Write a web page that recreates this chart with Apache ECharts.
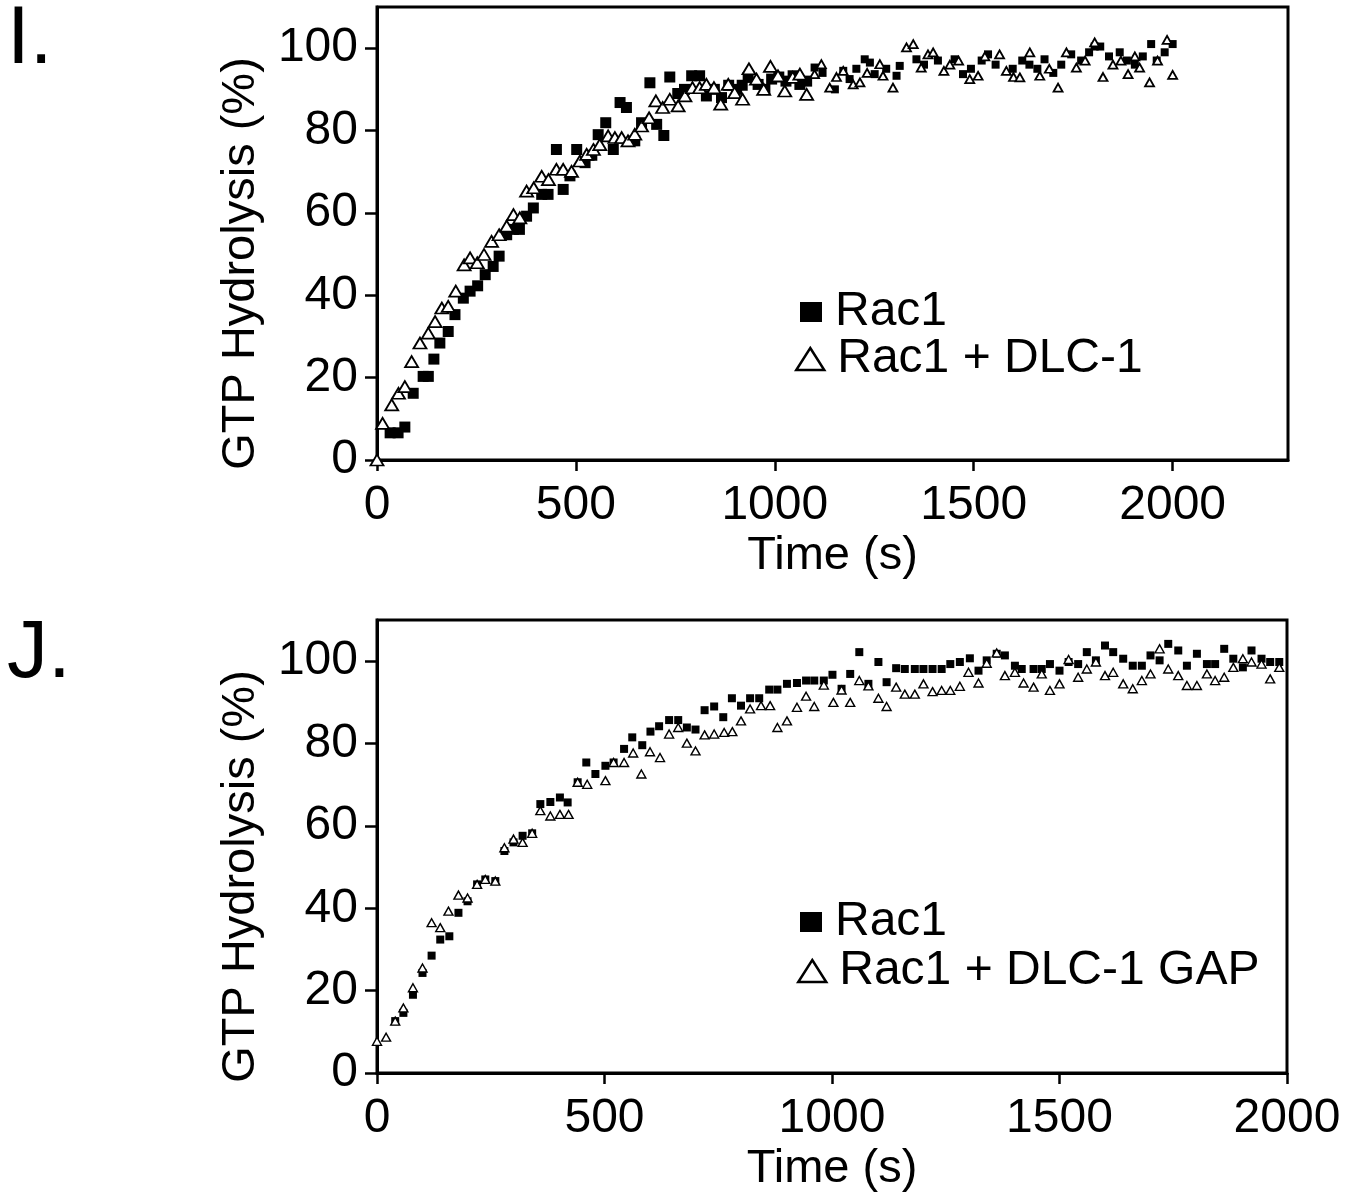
<!DOCTYPE html>
<html>
<head>
<meta charset="utf-8">
<script src="https://cdn.jsdelivr.net/npm/echarts@6/dist/echarts.min.js"></script>
<style>
html,body{margin:0;padding:0;background:#fff;}
#chart{width:1356px;height:1197px;}
</style>
</head>
<body>
<div id="chart"></div>
<script>
// ---- Data (time in s, GTP hydrolysis in %) ----
var xTicksI = [0, 500, 1000, 1500, 2000];
var xTicksJ = [0, 500, 1000, 1500, 2000];
var yTicks = [0, 20, 40, 60, 80, 100];

// Panel I: Rac1 (filled squares)
var iRac1 = [[33,6.6],[53,6.6],[70,8.0],[91,16.2],[116,20.3],[129,20.3],[143,24.5],[158,28.4],[179,31.2],[196,35.3],[217,39.3],[234,41],[253,42.3],[272,45],[292,47],[307,49.5],[326,54.7],[343,56],[358,56],[376,59.2],[393,61.2],[414,64.5],[430,64.5],[451,75.4],[468,65.7],[485,69],[502,75.4],[523,72.2],[540,74],[556,79],[575,81.9],[594,75.4],[611,86.8],[627,85.6],[648,77.5],[665,81.9],[686,91.6],[703,81.5],[721,78.8],[736,93],[756,89],[773,90],[791,93.3],[811,93.3],[828,88.4],[848,90],[866,88],[884,91],[904,90],[918,91],[933,92.9],[958,91.2],[975,90],[992,92.5],[1010,93],[1028,92],[1046,93.3],[1063,91.2],[1080,92],[1100,95.3],[1120,94],[1151,90],[1172,94.5],[1188,92.5],[1205,95],[1226,97.3],[1239,96.5],[1251,93.7],[1280,95],[1306,93.3],[1314,95.7],[1356,97.3],[1375,96],[1410,97],[1452,97.3],[1473,93.7],[1493,95],[1520,97],[1536,98.5],[1555,96],[1598,95],[1622,97],[1640,96],[1660,95],[1678,97.3],[1700,94],[1720,96],[1745,98.5],[1770,97],[1790,99],[1804,100.4],[1818,100.4],[1840,98],[1867,99],[1885,97],[1905,96],[1925,98],[1946,101],[1960,97],[1980,99],[2000,101]];
// Panel I: Rac1 + DLC-1 (open triangles)
var iRac1Dlc1 = [[0,0],[14,8.9],[37,13.4],[54,16.2],[70,17.8],[87,23.9],[108,28.4],[129,30.8],[146,33.6],[163,36.9],[179,37.3],[198,41],[219,47.4],[234,49.1],[252,47.9],[269,49.9],[288,53.1],[307,54.7],[326,56.8],[343,59.6],[359,58.8],[376,65.3],[394,66.1],[414,68.9],[431,68.1],[451,70.6],[468,70.6],[489,70.1],[510,72.6],[527,74.2],[544,75.4],[560,76.6],[581,78.7],[598,78.3],[615,78.3],[631,77.5],[648,79.1],[665,81.1],[684,83.1],[701,87.2],[718,85.6],[736,87.6],[757,86],[774,88.4],[793,90.4],[811,90.4],[828,91.2],[847,90.4],[864,86.4],[883,91.2],[899,89.2],[919,87.6],[935,95],[954,92.5],[972,90],[989,95.6],[1008,93.3],[1025,89.6],[1045,92.9],[1063,93.7],[1080,88.8],[1100,93.7],[1117,96.1],[1138,90.4],[1155,93],[1172,94.5],[1197,91.2],[1214,91.7],[1232,94],[1264,96.1],[1272,93.3],[1297,90.4],[1331,100.2],[1348,101],[1368,95.3],[1385,98.5],[1398,99],[1425,94.5],[1440,96],[1462,97],[1490,92.5],[1511,93.3],[1528,98],[1565,98.5],[1582,94.5],[1600,93],[1616,92.9],[1641,99],[1666,93.3],[1690,95],[1712,90.4],[1733,99],[1758,95.3],[1780,97],[1804,101.4],[1825,93],[1850,96],[1870,97],[1888,93.7],[1905,98],[1917,95.3],[1942,91.7],[1962,97],[1986,102],[2000,93.5]];

// Panel J: Rac1 (filled squares)
var jRac1 = [[40,12.6],[58,14.6],[79,19.0],[100,24.3],[120,28.5],[139,32.4],[159,33.2],[179,38.9],[199,41.7],[220,45.8],[238,47],[260,46.6],[280,53.9],[300,56],[320,57.6],[341,58.2],[359,65.3],[381,65.8],[402,66.9],[419,65.7],[441,70.6],[460,75.4],[480,72.6],[502,74.6],[520,75.4],[543,78.7],[561,81.5],[583,79.6],[601,82.9],[620,84.2],[642,85.7],[662,85.7],[681,83.9],[700,83.4],[720,88.1],[741,89.0],[761,86.4],[780,91.0],[800,89.2],[820,91.0],[840,91.0],[862,93.1],[880,93.1],[901,94.5],[923,94.7],[943,95.3],[961,95.3],[982,95.3],[1001,96.7],[1021,93.3],[1040,96.9],[1060,102.2],[1080,94.5],[1102,99.8],[1120,94.9],[1141,98.3],[1160,98.1],[1182,98.1],[1201,98.1],[1221,98.1],[1241,98.1],[1260,99.3],[1281,99.8],[1303,100.7],[1322,97.7],[1340,100.2],[1362,101.8],[1380,101.4],[1402,98.9],[1417,98.1],[1443,98.1],[1461,98.1],[1479,99.3],[1500,97.7],[1520,99.8],[1541,99.3],[1560,102.2],[1580,100.2],[1600,103.8],[1618,102.2],[1640,100.6],[1661,98.9],[1681,98.9],[1700,101.4],[1720,100.2],[1739,104.2],[1761,102.6],[1780,98.9],[1802,101.8],[1824,99.3],[1842,99.3],[1862,103],[1882,100.6],[1903,98.5],[1922,102.6],[1944,100.6],[1963,99.8],[1983,99.8]];
// Panel J: Rac1 + DLC-1 GAP (open triangles)
var jRac1Gap = [[0,7.7],[20,8.7],[40,12.6],[58,15.8],[79,20.7],[100,25.5],[120,36.5],[139,35.3],[157,39.3],[179,43.2],[199,42.5],[220,45.8],[238,47],[260,46.6],[280,54.7],[300,56.8],[320,56],[341,58.2],[359,63.7],[381,62.4],[402,62.8],[421,62.8],[441,70.6],[462,70.1],[502,71],[520,75.4],[543,75.4],[563,77.7],[581,72.6],[600,78],[622,76.6],[642,82.3],[662,83.9],[681,80.1],[700,78.2],[720,82.1],[741,82.3],[763,82.7],[781,82.9],[800,85.5],[820,88.4],[844,89.2],[864,89.2],[880,83.9],[901,85.5],[923,88.8],[943,91.5],[961,89.0],[982,94.2],[1003,90.0],[1021,93],[1040,90.0],[1060,95.3],[1080,94],[1102,91],[1120,89.0],[1141,93.7],[1160,92.0],[1182,92.0],[1201,94.5],[1221,92.6],[1241,92.9],[1260,92.9],[1281,93.9],[1300,97.3],[1322,94.7],[1340,99.5],[1362,102],[1380,96.5],[1402,97.3],[1421,94.7],[1443,93.7],[1461,96.9],[1479,92.9],[1500,94.5],[1520,100.4],[1541,96.1],[1560,98.1],[1580,99.8],[1600,96.5],[1618,97.3],[1640,94.5],[1661,93.3],[1681,95.3],[1700,96.9],[1720,103],[1739,98.1],[1761,96.5],[1780,94.1],[1802,94.1],[1824,96.9],[1842,95.3],[1862,96.1],[1882,98.5],[1903,100.6],[1922,99.8],[1944,99.3],[1963,95.7],[1983,98.5]];

var xMaxI = 2290, xMaxJ = 2000, yMin = 0, yMax = 110;

// ---- Styles ----
var FONT = '"Liberation Sans", Arial, sans-serif';
var TICK_FS = 48, NAME_FS = 47, LEG_FS = 48;
function plain(v) { return String(v); }

function xAxisCfg(gridIndex, max, ticks) {
  return {
    type: 'value', gridIndex: gridIndex, min: 0, max: max, interval: 500,
    name: 'Time (s)', nameLocation: 'middle', nameGap: 73,
    nameTextStyle: {fontSize: NAME_FS, color: '#000', fontFamily: FONT},
    axisLine: {show: true, lineStyle: {color: '#000', width: 3}},
    axisTick: {show: true, inside: false, length: 11, customValues: ticks, lineStyle: {color: '#000', width: 2.5}},
    axisLabel: {show: true, margin: 22, fontSize: TICK_FS, color: '#000', fontFamily: FONT, customValues: ticks, formatter: plain},
    splitLine: {show: false}
  };
}
function yAxisCfg(gridIndex) {
  return {
    type: 'value', gridIndex: gridIndex, min: yMin, max: yMax, interval: 20,
    name: 'GTP Hydrolysis (%)', nameLocation: 'middle', nameGap: 112,
    nameTextStyle: {fontSize: NAME_FS, color: '#000', fontFamily: FONT, padding: [0, 60, 0, 0]},
    axisLine: {show: true, lineStyle: {color: '#000', width: 3}},
    axisTick: {show: true, inside: false, length: 12, customValues: yTicks, lineStyle: {color: '#000', width: 2.5}},
    axisLabel: {show: true, margin: 19, fontSize: TICK_FS, color: '#000', fontFamily: FONT, customValues: yTicks, formatter: plain},
    splitLine: {show: false}
  };
}
function legendCfg(name, left, top, w, h) {
  return {
    data: [name], left: left, top: top, orient: 'vertical',
    itemWidth: w, itemHeight: h, selectedMode: false,
    itemStyle: {borderWidth: 2.5, opacity: 1},
    textStyle: {fontSize: LEG_FS, color: '#000', fontFamily: FONT, padding: [0, 0, 0, 8]}
  };
}

var sqStyle = {color: '#000', borderWidth: 0, opacity: 1};
var triStyle = {color: '#fff', borderColor: '#000', borderWidth: 1.8, opacity: 1};

var chart = echarts.init(document.getElementById('chart'), null, {renderer: 'canvas'});
chart.setOption({
  animation: false,
  backgroundColor: '#fff',
  title: [
    {text: 'I.', left: 2, top: -6, textStyle: {fontSize: 82, fontWeight: 'normal', color: '#000', fontFamily: FONT}},
    {text: 'J.', left: 2, top: 608, textStyle: {fontSize: 82, fontWeight: 'normal', color: '#000', fontFamily: FONT}}
  ],
  grid: [
    {left: 377, top: 7, width: 911, height: 453, show: true, borderColor: '#000', borderWidth: 3, backgroundColor: 'transparent'},
    {left: 377, top: 620, width: 910, height: 453, show: true, borderColor: '#000', borderWidth: 3, backgroundColor: 'transparent'}
  ],
  xAxis: [xAxisCfg(0, xMaxI, xTicksI), xAxisCfg(1, xMaxJ, xTicksJ)],
  yAxis: [yAxisCfg(0), yAxisCfg(1)],
  legend: [
    legendCfg('Rac1', 795, 283, 22, 20),
    legendCfg('Rac1 + DLC-1', 790, 330, 28, 22),
    legendCfg('Rac1 ', 795, 893, 22, 20),
    legendCfg('Rac1 + DLC-1 GAP', 792, 942, 28, 22)
  ],
  series: [
    {type: 'scatter', name: 'Rac1', xAxisIndex: 0, yAxisIndex: 0, data: iRac1, symbol: 'rect',
     symbolSize: function (v) { return v[0] > 1080 ? 8 : 11; }, itemStyle: sqStyle, silent: true},
    {type: 'scatter', name: 'Rac1 + DLC-1', xAxisIndex: 0, yAxisIndex: 0, data: iRac1Dlc1, symbol: 'triangle',
     symbolSize: function (v) { return v[0] > 1080 ? [9, 8] : [13, 11]; }, itemStyle: triStyle, silent: true},
    {type: 'scatter', name: 'Rac1 ', xAxisIndex: 1, yAxisIndex: 1, data: jRac1, symbol: 'rect',
     symbolSize: 8, itemStyle: sqStyle, silent: true},
    {type: 'scatter', name: 'Rac1 + DLC-1 GAP', xAxisIndex: 1, yAxisIndex: 1, data: jRac1Gap, symbol: 'triangle',
     symbolSize: [9, 8], itemStyle: {color: '#fff', borderColor: '#000', borderWidth: 1.4, opacity: 1}, silent: true}
  ]
});
</script>
</body>
</html>
